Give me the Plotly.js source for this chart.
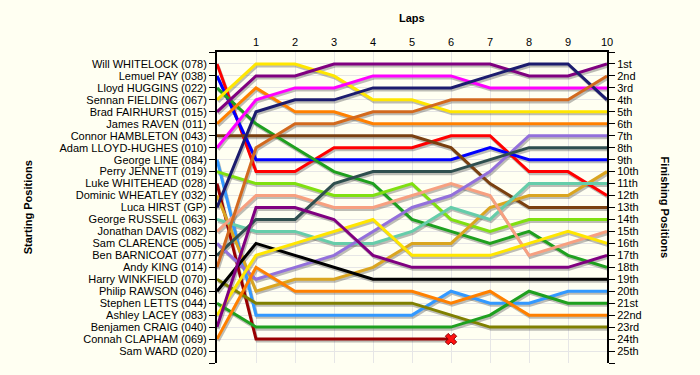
<!DOCTYPE html>
<html>
<head>
<meta charset="utf-8">
<script src="https://cdn.plot.ly/plotly-3.0.1.min.js"></script>
<style>
html,body{margin:0;padding:0;background:#FFFFF2;}
#chart{width:700px;height:375px;}
</style>
</head>
<body>
<div id="chart"></div>
<script>
// ---- data ----
const laps = [0,1,2,3,4,5,6,7,8,9,10];
const lapTicks = [1,2,3,4,5,6,7,8,9,10];

const startNames = [
  "Will WHITELOCK (078)","Lemuel PAY (038)","Lloyd HUGGINS (022)","Sennan FIELDING (067)",
  "Brad FAIRHURST (015)","James RAVEN (011)","Connor HAMBLETON (043)","Adam LLOYD-HUGHES (010)",
  "George LINE (084)","Perry JENNETT (019)","Luke WHITEHEAD (028)","Dominic WHEATLEY (032)",
  "Luca HIRST (GP)","George RUSSELL (063)","Jonathan DAVIS (082)","Sam CLARENCE (005)",
  "Ben BARNICOAT (077)","Andy KING (014)","Harry WINKFIELD (070)","Philip RAWSON (046)",
  "Stephen LETTS (044)","Ashley LACEY (083)","Benjamen CRAIG (040)","Connah CLAPHAM (069)",
  "Sam WARD (020)"
];
const finishLabels = ["1st","2nd","3rd","4th","5th","6th","7th","8th","9th","10th",
  "11th","12th","13th","14th","15th","16th","17th","18th","19th","20th",
  "21st","22nd","23rd","24th","25th"];

// positions per lap (lap 0 = starting position)
const posWhitelock  = [1,10,10,8,8,8,7,7,10,10,12];
const posPay        = [2,9,9,9,9,9,9,8,9,9,9];
const posHuggins    = [3,6,8,10,11,14,15,16,15,17,18];
const posFielding   = [4,1,1,2,4,4,5,5,5,5,5];
const posFairhurst  = [5,2,2,1,1,1,1,1,2,2,1];
const posRaven      = [6,3,5,5,6,6,6,6,6,6,6];
const posHambleton  = [7,7,7,7,7,7,8,11,13,13,13];
const posLloydHughes= [8,4,3,3,2,2,2,3,3,3,3];
const posLine       = [9,22,22,22,22,22,20,21,21,20,20];
const posJennett    = [10,11,11,12,12,11,14,15,14,14,14];
const posWhitehead  = [11,24,24,24,24,24,24,null,null,null,null];
const posWheatley   = [12,20,19,19,18,16,16,13,12,12,10];
const posHirst      = [13,5,4,4,3,3,3,2,1,1,4];
const posRussell    = [14,15,15,16,16,15,13,14,11,11,11];
const posDavis      = [15,12,12,13,13,12,11,12,17,16,15];
const posClarence   = [16,19,18,17,15,13,12,10,7,7,7];
const posBarnicoat  = [17,14,14,11,10,10,10,9,8,8,8];
const posKing       = [18,8,6,6,5,5,4,4,4,4,2];
const posWinkfield  = [19,21,21,21,21,21,22,23,23,23,23];
const posRawson     = [20,16,17,18,19,19,19,19,19,19,19];
const posLetts      = [21,23,23,23,23,23,23,22,20,21,21];
const posLacey      = [22,17,16,15,14,17,17,17,16,15,16];
const posCraig      = [23,13,13,14,17,18,18,18,18,18,17];
const posClapham    = [24,18,20,20,20,20,21,20,22,22,22];

const driverPositions = [posWhitelock,posPay,posHuggins,posFielding,posFairhurst,posRaven,
  posHambleton,posLloydHughes,posLine,posJennett,posWhitehead,posWheatley,posHirst,posRussell,
  posDavis,posClarence,posBarnicoat,posKing,posWinkfield,posRawson,posLetts,posLacey,posCraig,posClapham];

const driverColors = ["#FF0000","#0000FF","#1FA01F","#FFE600","#800080","#FF8000",
  "#7A4010","#FF00FF","#3399FF","#80E010","#990000","#DAA520",
  "#1C1C6E","#66CDAA","#F7A080","#9370DB","#2F4F4F","#D2691E",
  "#808000","#000000","#1FA01F","#FFE600","#800080","#FF8000"];

const retiredDriver = 10;   // Luke WHITEHEAD
const retiredLap = 6;

// ---- build traces ----
const traces = [];
const shadowDx = 0.03, shadowDy = 0.17;
driverPositions.forEach((p) => {
  traces.push({
    x: laps.map(v => v + shadowDx), y: p.map(v => v === null ? null : v + shadowDy),
    mode: 'lines', line: {color: 'rgba(90,90,90,0.40)', width: 3},
    hoverinfo: 'skip', showlegend: false
  });
});
driverPositions.forEach((p, i) => {
  traces.push({
    x: laps, y: p, mode: 'lines', name: startNames[i],
    line: {color: driverColors[i], width: 3},
    showlegend: false
  });
});
// retirement marker
traces.push({
  x: [retiredLap], y: [driverPositions[retiredDriver][retiredLap]],
  mode: 'markers',
  marker: {symbol: 'x', size: 10, color: '#FF1010', line: {color: '#8B0000', width: 1}},
  showlegend: false
});
// invisible trace for right axis
traces.push({
  x: [0], y: [1], yaxis: 'y2', mode: 'markers',
  marker: {opacity: 0}, showlegend: false, hoverinfo: 'skip'
});

const yTickVals = [0].concat(startNames.map((_, i) => i + 1)).concat([26]);
const leftText = [''].concat(startNames).concat(['']);
const rightText = [''].concat(finishLabels).concat(['']);

const font = {family: 'Liberation Sans, Arial, sans-serif', size: 11, color: '#000'};

const layout = {
  width: 700, height: 375,
  margin: {l: 217, r: 93, t: 52, b: 12, pad: 0},
  paper_bgcolor: '#FFFFF2', plot_bgcolor: '#FFFFF2',
  font: font,
  showlegend: false,
  hovermode: false,
  xaxis: {
    side: 'top', range: [0, 10], autorange: false,
    tickvals: lapTicks, ticktext: lapTicks.map(String),
    showline: true, linecolor: '#000', linewidth: 2,
    showgrid: true, gridcolor: '#E6E6E6', gridwidth: 1,
    ticks: '', zeroline: false, tickfont: font
  },
  yaxis: {
    range: [26, 0], autorange: false,
    tickvals: yTickVals, ticktext: leftText,
    showline: true, linecolor: '#000', linewidth: 2,
    ticks: 'outside', ticklen: 6, tickwidth: 1, tickcolor: '#000',
    showgrid: true, gridcolor: '#E6E6E6', gridwidth: 1,
    zeroline: false, tickfont: font
  },
  yaxis2: {
    overlaying: 'y', side: 'right', anchor: 'x',
    range: [26, 0], autorange: false,
    tickvals: yTickVals, ticktext: rightText,
    showline: true, linecolor: '#000', linewidth: 2,
    ticks: 'outside', ticklen: 6, tickwidth: 1, tickcolor: '#000',
    showgrid: false, zeroline: false, tickfont: font
  },
  annotations: [
    {text: '<b>Laps</b>', xref: 'paper', yref: 'paper', x: 0.5, y: 1.109,
     xanchor: 'center', yanchor: 'middle', showarrow: false, font: font},
    {text: '<b>Starting Positions</b>', xref: 'paper', yref: 'paper', x: -0.485, y: 0.50,
     xanchor: 'center', yanchor: 'middle', showarrow: false, textangle: -90, font: font},
    {text: '<b>Finishing Positions</b>', xref: 'paper', yref: 'paper', x: 1.151, y: 0.50,
     xanchor: 'center', yanchor: 'middle', showarrow: false, textangle: 90, font: font}
  ]
};

Plotly.newPlot('chart', traces, layout, {staticPlot: true, displayModeBar: false});
</script>
</body>
</html>
